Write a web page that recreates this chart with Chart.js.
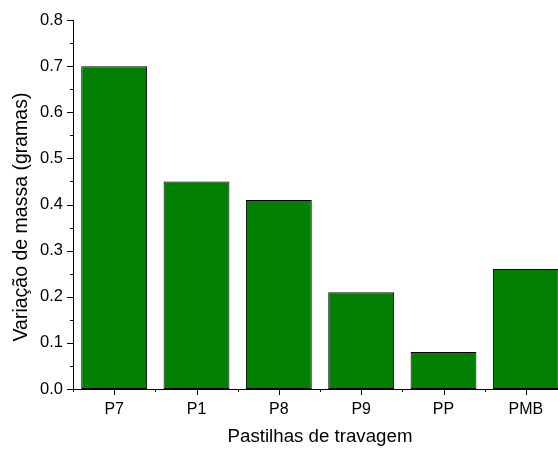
<!DOCTYPE html>
<html>
<head>
<meta charset="utf-8">
<script src="https://cdn.jsdelivr.net/npm/chart.js@4"></script>
<style>
  html, body { margin: 0; padding: 0; background: #fff; overflow: hidden; }
  #wrap { width: 575px; height: 449px; }
</style>
</head>
<body>
<div id="wrap"><canvas id="massChart" width="575" height="449"></canvas></div>
<script>
const pastilhas = ["P7", "P1", "P8", "P9", "PP", "PMB"];
const variacaoMassa = [0.70, 0.45, 0.41, 0.21, 0.08, 0.26];
const yTicks = [0.0, 0.1, 0.2, 0.3, 0.4, 0.5, 0.6, 0.7, 0.8];

const font = "'Liberation Sans', Arial, sans-serif";
const yTitle = "Variação de massa (gramas)";

// draws major/minor tick marks like Origin does, plus the y title
const tickMarks = {
  id: "tickMarks",
  afterDraw(chart) {
    const ctx = chart.ctx;
    const xs = chart.scales.x;
    const ys = chart.scales.y;
    ctx.save();
    ctx.strokeStyle = "#000";
    ctx.lineWidth = 1;
    ctx.beginPath();
    ys.ticks.forEach((t, i) => {
      const py = Math.round(ys.getPixelForTick(i)) + 0.5;
      const major = yTicks.some(v => Math.abs(v - t.value) < 1e-6);
      const len = major ? 6 : 3;
      ctx.moveTo(ys.right - len, py);
      ctx.lineTo(ys.right, py);
    });
    pastilhas.forEach((p, i) => {
      const px = Math.round(xs.getPixelForValue(i)) + 0.5;
      ctx.moveTo(px, xs.top);
      ctx.lineTo(px, xs.top + 6);
    });
    for (let k = 0; k <= pastilhas.length; k++) {
      const px = Math.round(xs.getPixelForValue(k - 0.5)) + 0.5;
      ctx.moveTo(px, xs.top);
      ctx.lineTo(px, xs.top + 3);
    }
    ctx.stroke();

    // y axis title (sits a bit below the axis middle in the original)
    ctx.translate(22, 217);
    ctx.rotate(-Math.PI / 2);
    ctx.fillStyle = "#000";
    ctx.font = "19.5px " + font;
    ctx.textAlign = "center";
    ctx.textBaseline = "middle";
    ctx.fillText(yTitle, 0, 0);
    ctx.restore();
  }
};

new Chart(document.getElementById("massChart"), {
  type: "bar",
  data: {
    labels: pastilhas,
    datasets: [{
      data: variacaoMassa,
      backgroundColor: "#007f00",
      borderColor: "#000",
      borderWidth: 1,
      borderSkipped: false,
      barPercentage: 0.8,
      categoryPercentage: 1.0
    }]
  },
  options: {
    responsive: false,
    animation: false,
    layout: { padding: { top: 20, right: 8, left: 0, bottom: 0 } },
    plugins: { legend: { display: false }, tooltip: { enabled: false } },
    scales: {
      x: {
        grid: { display: false, drawTicks: false },
        border: { display: true, color: "#000", width: 1 },
        ticks: { color: "#000", font: { family: font, size: 16 }, padding: 11 },
        title: {
          display: true,
          text: "Pastilhas de travagem",
          color: "#000",
          font: { family: font, size: 18.7 },
          padding: { top: 0, bottom: 1 }
        },
        afterFit(scale) { scale.height = 60; }
      },
      y: {
        min: 0,
        max: 0.8,
        grid: { display: false, drawTicks: false },
        border: { display: true, color: "#000", width: 1 },
        ticks: {
          stepSize: 0.05,
          color: "#000",
          font: { family: font, size: 16.5 },
          padding: 10,
          callback(v) {
            const major = yTicks.some(t => Math.abs(t - v) < 1e-6);
            return major ? v.toFixed(1) : "";
          }
        },
        afterFit(scale) { scale.width = 73; }
      }
    }
  },
  plugins: [tickMarks]
});
</script>
</body>
</html>
